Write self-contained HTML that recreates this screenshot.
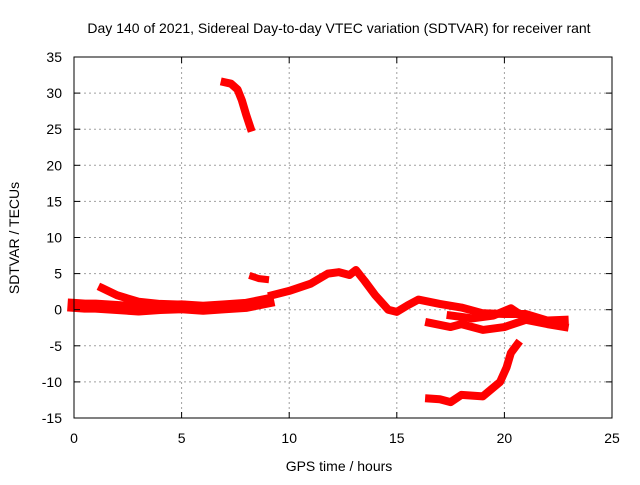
<!DOCTYPE html>
<html><head><meta charset="utf-8"><style>
body{margin:0;background:#fff}
svg text{font-family:"Liberation Sans",sans-serif;font-size:14px;fill:#000}
</style></head><body>
<svg width="640" height="480" xmlns="http://www.w3.org/2000/svg">
<rect width="640" height="480" fill="#fff"/>
<g id="grid"></g>
<g id="series"></g>
<rect x="74" y="57" width="538" height="361" fill="none" stroke="#000" stroke-width="1"/>
<g id="ticks"></g>
<text x="339" y="33" text-anchor="middle">Day 140 of 2021, Sidereal Day-to-day VTEC variation (SDTVAR) for receiver rant</text>
<text x="339" y="471" text-anchor="middle">GPS time / hours</text>
<text x="19" y="238" text-anchor="middle" transform="rotate(-90 19 238)">SDTVAR / TECUs</text>
</svg>
<script>
const xTicks=[0,5,10,15,20,25];
const yTicks=[35,30,25,20,15,10,5,0,-5,-10,-15];
const trackA_t=[7.0,7.3,7.6,7.8,8.0,8.2];
const trackA_v=[31.5,31.3,30.5,29,27,25.2];
const bandMain_t=[0,0.5,1,2,3,4,5,6,7,8,9];
const bandMain_v=[0.6,0.5,0.5,0.3,0.1,0.3,0.4,0.2,0.4,0.6,1.2];
const bandUpper_t=[1.3,2,3,4,5];
const bandUpper_v=[3.0,2.0,1.1,0.8,0.7];
const trackB_t=[8.3,8.6,8.9];
const trackB_v=[4.6,4.3,4.2];
const trackC_t=[9.2,10,11,11.8,12.3,12.8,13.1,13.5,14,14.6,15,15.5,16,17,18,19,20,21,22,22.8];
const trackC_v=[2,2.6,3.6,5,5.2,4.8,5.5,4,2,0,-0.3,0.6,1.4,0.8,0.3,-0.5,-0.6,-0.6,-1.5,-1.4];
const trackD_t=[16.5,17.5,18,19,20,21,22,22.8];
const trackD_v=[-1.8,-2.4,-2.0,-2.8,-2.4,-1.4,-2.0,-2.4];
const trackE_t=[17.5,18.5,19.5,20.3,20.8,21.5];
const trackE_v=[-0.8,-1.2,-0.8,0.2,-0.8,-1.2];
const trackF_t=[16.5,17,17.5,18,19,19.8,20.1,20.3,20.6];
const trackF_v=[-12.3,-12.4,-12.8,-11.8,-12,-10,-8,-6,-4.8];
const tracks=[[trackA_t,trackA_v,8],[bandMain_t,bandMain_v,13],[bandUpper_t,bandUpper_v,8],[trackB_t,trackB_v,7],[trackC_t,trackC_v,8],[trackD_t,trackD_v,8],[trackE_t,trackE_v,8],[trackF_t,trackF_v,8]];
const X=t=>74+t*538/25, Y=v=>57+(35-v)*361/50;
const NS="http://www.w3.org/2000/svg";
const grid=document.getElementById('grid'),ticks=document.getElementById('ticks'),ser=document.getElementById('series');
function mk(tag,a,p){const e=document.createElementNS(NS,tag);for(const k in a)e.setAttribute(k,a[k]);p.appendChild(e);return e;}
xTicks.forEach(t=>{const x=X(t);
 if(t>0&&t<25){const l=mk('line',{x1:x,x2:x,y1:57,y2:418,stroke:'#a0a0a0','stroke-dasharray':'2,3'},grid);
 
 }
 mk('line',{x1:x,x2:x,y1:418,y2:412,stroke:'#000'},ticks);mk('line',{x1:x,x2:x,y1:57,y2:63,stroke:'#000'},ticks);
 const tx=mk('text',{x:x,y:443,'text-anchor':'middle'},ticks);tx.textContent=t;
 
 });
yTicks.forEach(v=>{const y=Y(v);
 if(v>-15&&v<35){const l=mk('line',{x1:74,x2:612,y1:y,y2:y,stroke:'#a0a0a0','stroke-dasharray':'2,3'},grid);
 
 }
 mk('line',{x1:74,x2:80,y1:y,y2:y,stroke:'#000'},ticks);mk('line',{x1:606,x2:612,y1:y,y2:y,stroke:'#000'},ticks);
 const tx=mk('text',{x:62,y:y+5,'text-anchor':'end'},ticks);tx.textContent=v;
 
 });
tracks.forEach(([ts,vs,w])=>{
 const pts=ts.map((t,i)=>X(t)+','+Y(vs[i])).join(' ');
 const p=mk('polyline',{points:pts,fill:'none',stroke:'#ff0000','stroke-width':w,'stroke-linejoin':'round','stroke-linecap':'square'},ser);
 
 
});
</script>
</body></html>
